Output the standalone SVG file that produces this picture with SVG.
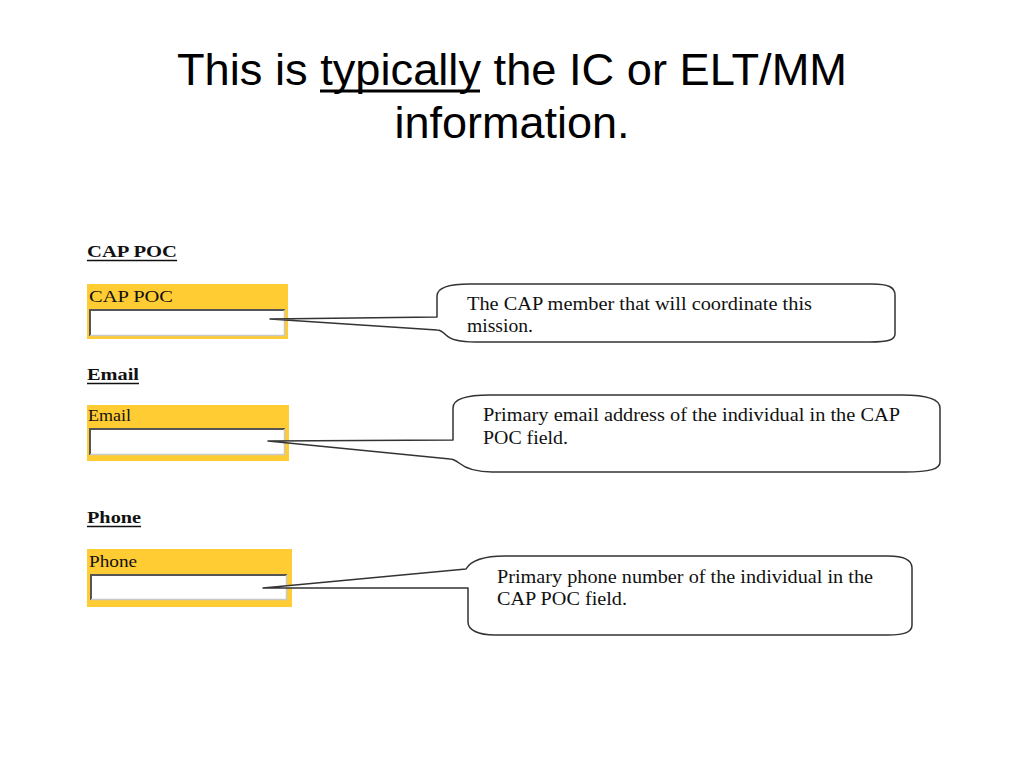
<svg xmlns="http://www.w3.org/2000/svg" width="1024" height="768" viewBox="0 0 1024 768">
<style>
.title{font-family:"Liberation Sans",Arial,sans-serif;font-size:45px;fill:#000}
.head{font-family:"Liberation Serif","Times New Roman",serif;font-size:17px;font-weight:bold;fill:#111}
.lab{font-family:"Liberation Serif","Times New Roman",serif;font-size:17px;fill:#111}
.txt{font-family:"Liberation Serif","Times New Roman",serif;font-size:18px;fill:#111}
.yel{fill:#FFCC33}
.inp{fill:#fff}
.dk{stroke:#555;stroke-width:2;fill:none}
.lt{stroke:#c8c8c8;stroke-width:1.5;fill:none}
.ul{stroke:#111;stroke-width:1.3}
.call{fill:#fff;stroke:#333;stroke-width:1.5;stroke-linejoin:round}
</style>
<rect width="1024" height="768" fill="#fff"/>
<g id="title">
<text class="title" x="512" y="85" text-anchor="middle" textLength="670" lengthAdjust="spacingAndGlyphs">This is typically the IC or ELT/MM</text>
<line x1="320" y1="91" x2="480" y2="91" stroke="#000" stroke-width="3"/>
<text class="title" x="512" y="138" text-anchor="middle">information.</text>
</g>
<g id="cap-poc">
<text class="head" x="87" y="257" textLength="90" lengthAdjust="spacingAndGlyphs">CAP POC</text>
<line class="ul" x1="87" y1="260.5" x2="177" y2="260.5"/>
<rect class="yel" x="87" y="284" width="201" height="55"/>
<text class="lab" x="89" y="302" textLength="84" lengthAdjust="spacingAndGlyphs">CAP POC</text>
<rect class="inp" x="89" y="309" width="196" height="27"/>
<polyline class="dk" points="90,336 90,310 285,310"/>
<polyline class="lt" points="90,335.5 284.5,335.5 284.5,310"/>
</g>
<g id="email">
<text class="head" x="87" y="380" textLength="52" lengthAdjust="spacingAndGlyphs">Email</text>
<line class="ul" x1="87" y1="383.5" x2="139" y2="383.5"/>
<rect class="yel" x="87" y="405" width="202" height="56"/>
<text class="lab" x="88" y="421" textLength="43" lengthAdjust="spacingAndGlyphs">Email</text>
<rect class="inp" x="89" y="428" width="196" height="27"/>
<polyline class="dk" points="90,455 90,429 285,429"/>
<polyline class="lt" points="90,454.5 284.5,454.5 284.5,429"/>
</g>
<g id="phone">
<text class="head" x="87" y="523" textLength="54" lengthAdjust="spacingAndGlyphs">Phone</text>
<line class="ul" x1="87" y1="526.5" x2="141" y2="526.5"/>
<rect class="yel" x="87" y="549" width="205" height="58"/>
<text class="lab" x="89" y="567" textLength="48" lengthAdjust="spacingAndGlyphs">Phone</text>
<rect class="inp" x="90" y="574" width="197" height="26"/>
<polyline class="dk" points="91,600 91,575 287,575"/>
<polyline class="lt" points="91,599.5 286.5,599.5 286.5,575"/>
</g>
<g id="connectors">
<path id="callout-cap-poc" class="call" d="M437,296 C437,288 448,284 470,284 L872,284 C888,284 895,287 895,295 L895,334 C895,340 888,342 870,342 L475,342 C458,342 450,339 446,335 C442,331 440,330 437,330 L270,319 L437,317 Z"/>
<path id="callout-email" class="call" d="M453,408 C453,399 465,395 490,395 L902,395 C930,395 940,400 940,408 L940,462 C940,469 930,472 905,472 L492,472 C472,472 464,467 459,463 C455,460 453,459 450,459 L268,441 L453,440 Z"/>
<path id="callout-phone" class="call" d="M263,588 L466,569 C470,562 480,556 505,556 L888,556 C904,556 912,560 912,568 L912,625 C912,632 905,635 888,635 L495,635 C478,635 468,630 468,622 L468,588 Z"/>
</g>
<g id="callout-text">
<text class="txt" x="467" y="310" textLength="345" lengthAdjust="spacingAndGlyphs">The CAP member that will coordinate this</text>
<text class="txt" x="467" y="332" textLength="66" lengthAdjust="spacingAndGlyphs">mission.</text>
<text class="txt" x="483" y="421" textLength="417" lengthAdjust="spacingAndGlyphs">Primary email address of the individual in the CAP</text>
<text class="txt" x="483" y="444" textLength="85" lengthAdjust="spacingAndGlyphs">POC field.</text>
<text class="txt" x="497" y="583" textLength="376" lengthAdjust="spacingAndGlyphs">Primary phone number of the individual in the</text>
<text class="txt" x="497" y="605" textLength="130" lengthAdjust="spacingAndGlyphs">CAP POC field.</text>
</g>
</svg>
